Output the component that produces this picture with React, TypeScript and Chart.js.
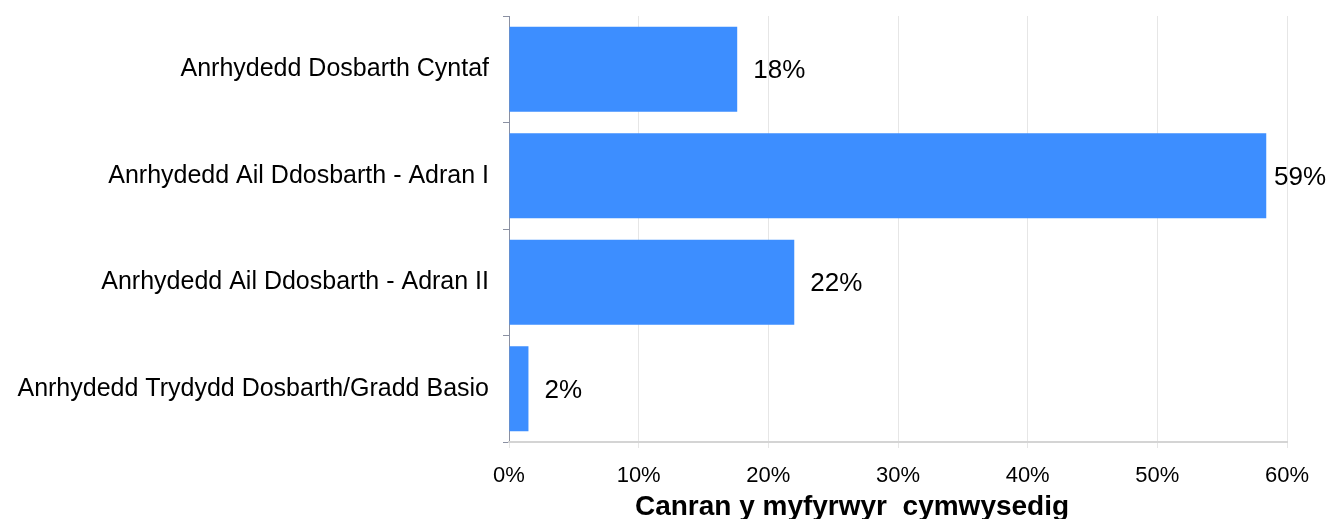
import React, { useEffect, useRef } from "react";
import { Chart, registerables } from "chart.js";

Chart.register(...registerables);

const categories = [
  "Anrhydedd Dosbarth Cyntaf",
  "Anrhydedd Ail Ddosbarth - Adran I",
  "Anrhydedd Ail Ddosbarth - Adran II",
  "Anrhydedd Trydydd Dosbarth/Gradd Basio",
];
const values = [17.6, 58.4, 22.0, 1.5];
const valueLabels = ["18%", "59%", "22%", "2%"];
const axisTitle = "Canran y myfyrwyr  cymwysedig";

const FONT = "'Liberation Sans', Arial, sans-serif";

const labelPlugin = {
  id: "barLabels",
  afterDatasetsDraw(chart: any) {
    const ctx = chart.ctx;
    const meta = chart.getDatasetMeta(0);
    ctx.save();
    ctx.font = `26px ${FONT}`;
    ctx.fillStyle = "#000";
    ctx.textAlign = "left";
    ctx.textBaseline = "middle";
    meta.data.forEach((bar: any, i: number) => {
      const x = Math.min(bar.x + 16, chart.width - 58);
      ctx.fillText(valueLabels[i], x, bar.y + 2);
    });
    ctx.restore();
  },
  afterDraw(chart: any) {
    const ctx = chart.ctx;
    ctx.save();
    ctx.font = `bold 28px ${FONT}`;
    ctx.fillStyle = "#000";
    ctx.textAlign = "center";
    ctx.textBaseline = "alphabetic";
    ctx.fillText(axisTitle, 852, 515);
    ctx.restore();
  },
};

export default function App() {
  const ref = useRef<HTMLCanvasElement>(null);
  useEffect(() => {
    document.body.style.margin = "0";
    const chart = new Chart(ref.current!, {
      type: "bar",
      data: {
        labels: categories,
        datasets: [
          {
            data: values,
            backgroundColor: "#3d8eff",
            borderWidth: 0,
            categoryPercentage: 0.8,
            barPercentage: 1,
          },
        ],
      },
      options: {
        indexAxis: "y",
        animation: false,
        responsive: false,
        layout: { padding: { top: 16, right: 45, left: 0, bottom: 0 } },
        plugins: { legend: { display: false }, tooltip: { enabled: false } },
        scales: {
          y: {
            afterFit(scale: any) {
              scale.width = 509;
              scale.paddingTop = 0;
              scale.paddingBottom = 0;
            },
            grid: {
              drawOnChartArea: false,
              drawTicks: true,
              tickLength: 6,
              color: "#8a90a2",
            },
            border: { color: "#8a90a2", width: 1 },
            ticks: {
              color: "#000",
              padding: 14,
              font: { family: FONT, size: 25 },
            },
          },
          x: {
            min: 0,
            max: 60,
            afterFit(scale: any) {
              scale.height = 77;
            },
            grid: {
              color: "#e6e6e6",
              tickLength: 6,
              drawTicks: true,
            },
            border: { color: "#d4d4d4", width: 2 },
            ticks: {
              stepSize: 10,
              color: "#000",
              padding: 15,
              font: { family: FONT, size: 22 },
              callback: (v: any) => `${v}%`,
            },
          },
        },
      },
      plugins: [labelPlugin],
    });
    return () => chart.destroy();
  }, []);
  return <canvas ref={ref} width={1332} height={519} style={{ display: "block" }} />;
}
